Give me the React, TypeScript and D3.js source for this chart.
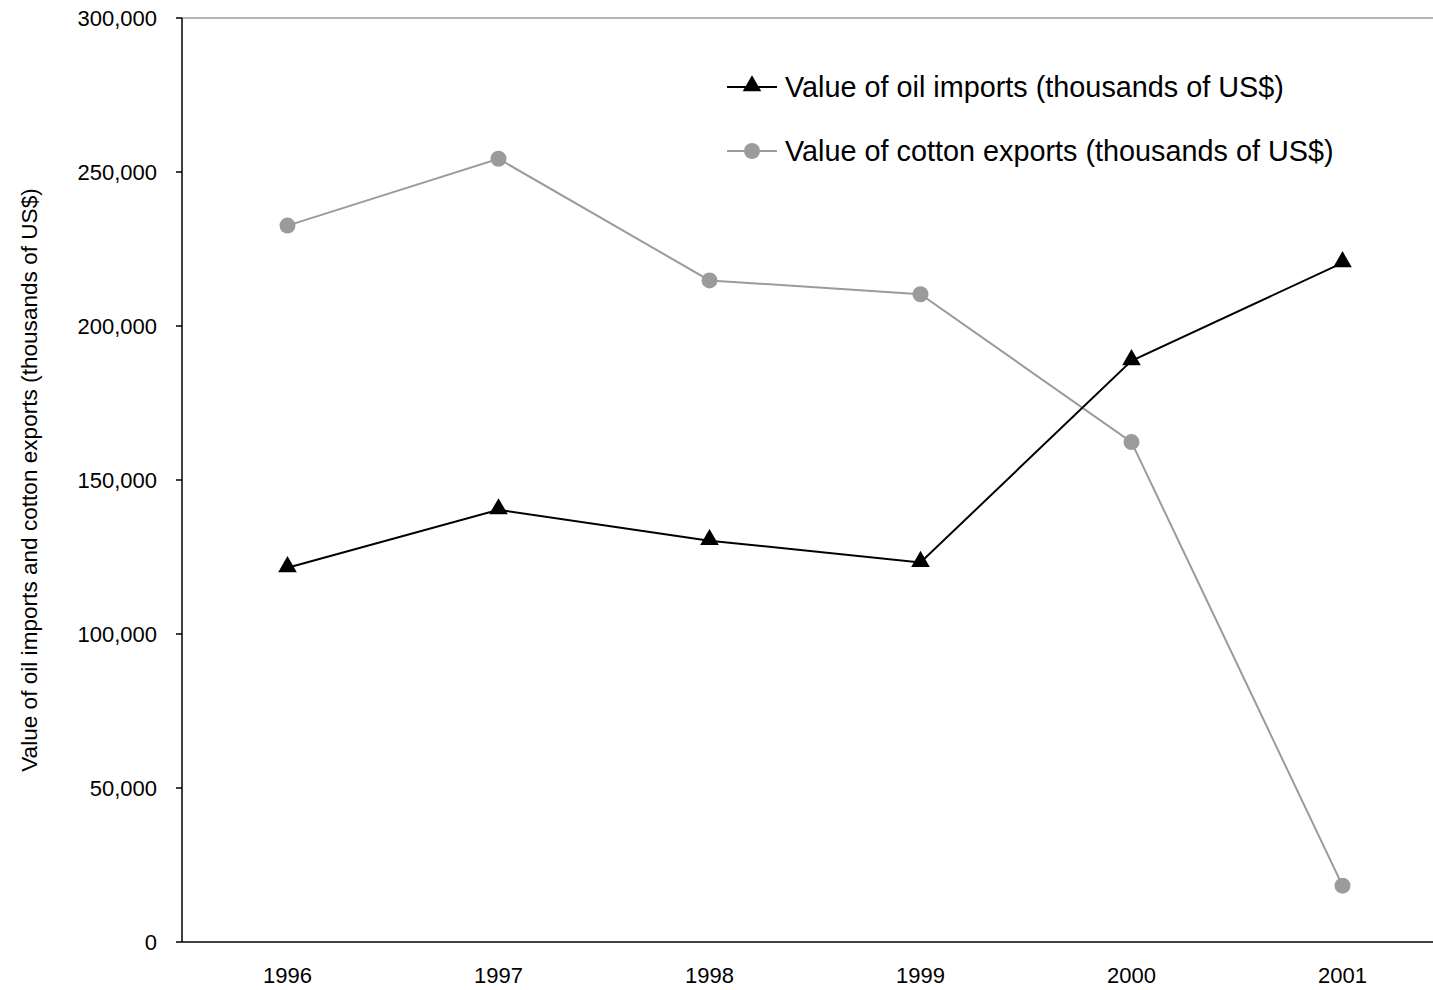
import React from "react";
import * as d3 from "d3";

const years = ["1996", "1997", "1998", "1999", "2000", "2001"];
const oilImports = [121500, 140300, 130300, 123200, 188700, 220500];
const cottonExports = [232600, 254300, 214800, 210300, 162300, 18300];
const yTicks = [0, 50000, 100000, 150000, 200000, 250000, 300000];
const legendLabels = [
  "Value of oil imports (thousands of US$)",
  "Value of cotton exports (thousands of US$)",
];

const W = 1433;
const H = 990;
const m = { left: 182, top: 18, right: 1448, bottom: 942 };
const font = "'Liberation Sans', Arial, sans-serif";
const gray = "#9b9b9b";

export default function App() {
  const x = d3.scaleBand<string>().domain(years).range([m.left, m.right]);
  const y = d3.scaleLinear().domain([0, 300000]).range([m.bottom, m.top]);
  const cx = (d: string) => (x(d) as number) + x.bandwidth() / 2;
  const line = d3
    .line<number>()
    .x((_, i) => cx(years[i]))
    .y((v) => y(v));
  const tri = d3.symbol().type(d3.symbolTriangle).size(150)();
  const fmt = d3.format(",");

  return (
    <svg width={W} height={H} style={{ position: "absolute", left: 0, top: 0 }}>
      <rect width={W} height={H} fill="white" />
      <line x1={m.left} x2={W} y1={m.top} y2={m.top} stroke={gray} strokeWidth={1.5} />
      <line x1={m.left} x2={W} y1={m.bottom} y2={m.bottom} stroke="#000" strokeWidth={1.5} />
      <line x1={m.left} x2={m.left} y1={m.top} y2={m.bottom} stroke="#000" strokeWidth={1.5} />
      {yTicks.map((t) => (
        <g key={t}>
          <line x1={m.left - 6} x2={m.left} y1={y(t)} y2={y(t)} stroke="#000" strokeWidth={1.5} />
          <text x={m.left - 25} y={y(t)} dy="0.35em" textAnchor="end" fontFamily={font} fontSize={22}>
            {fmt(t)}
          </text>
        </g>
      ))}
      {years.map((yr) => (
        <text key={yr} x={cx(yr)} y={m.bottom + 33} dy="0.35em" textAnchor="middle" fontFamily={font} fontSize={22}>
          {yr}
        </text>
      ))}
      <text
        transform={`translate(29,${(m.top + m.bottom) / 2}) rotate(-90)`}
        textAnchor="middle"
        dy="0.35em"
        fontFamily={font}
        fontSize={22.6}
      >
        Value of oil imports and cotton exports (thousands of US$)
      </text>
      <path d={line(cottonExports) || ""} fill="none" stroke={gray} strokeWidth={2} />
      <path d={line(oilImports) || ""} fill="none" stroke="#000" strokeWidth={2} />
      {cottonExports.map((v, i) => (
        <circle key={i} cx={cx(years[i])} cy={y(v)} r={8} fill={gray} />
      ))}
      {oilImports.map((v, i) => (
        <path key={i} d={tri || ""} transform={`translate(${cx(years[i])},${y(v) - 1})`} fill="#000" />
      ))}
      <g>
        <line x1={727} x2={777} y1={87} y2={87} stroke="#000" strokeWidth={2} />
        <path d={tri || ""} transform="translate(752,86)" fill="#000" />
        <text x={785} y={87} dy="0.35em" fontFamily={font} fontSize={28.8}>
          {legendLabels[0]}
        </text>
        <line x1={727} x2={777} y1={151} y2={151} stroke={gray} strokeWidth={2} />
        <circle cx={752} cy={151} r={8} fill={gray} />
        <text x={785} y={151} dy="0.35em" fontFamily={font} fontSize={28.8}>
          {legendLabels[1]}
        </text>
      </g>
    </svg>
  );
}
